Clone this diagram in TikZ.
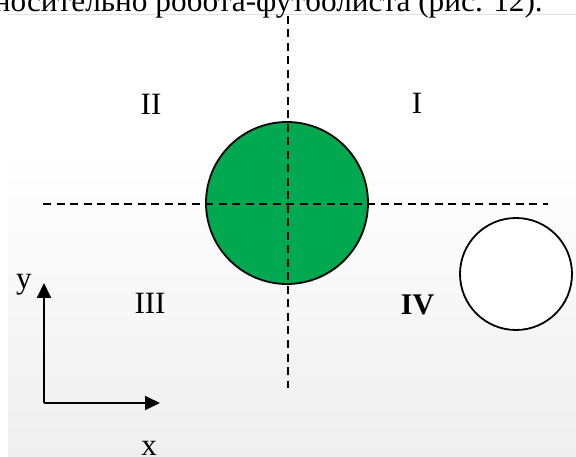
\documentclass[tikz,border=0pt]{standalone}
\usepackage{fontspec}
\setmainfont{Liberation Serif}
\usetikzlibrary{arrows.meta}
\definecolor{ballgreen}{RGB}{0,168,80}
\definecolor{panelgray}{RGB}{239,239,239}
\definecolor{edgegray}{RGB}{225,225,225}
\begin{document}
\begin{tikzpicture}[x=1pt,y=-1pt,
  dashline/.style={line width=1.9pt,dash pattern=on 8pt off 5.5pt},
  body/.style={circle,draw=black,line width=1.8pt,inner sep=0pt},
  quad/.style={font=\fontsize{31}{31}\selectfont,anchor=base,inner sep=0pt},
  axis/.style={line width=1.8pt,-{Triangle[length=15pt,width=14pt]}}]
\useasboundingbox (0,0) rectangle (576,457);
\clip (0,0) rectangle (576,457);
\fill[white] (0,0) rectangle (576,457);
% panel with vertical gradient
\fill[white] (8,14) rectangle (576,150);
\shade[top color=white,bottom color=panelgray] (8,150) rectangle (576,457);
\draw[edgegray,line width=0.8pt] (8,14) -- (576,14);
% caption fragment
\node[anchor=base east,inner sep=0pt,font=\fontsize{31.3}{31.3}\selectfont] (cap) at (543,12) {носительно робота-футболиста (рис. 12).};
% robot and ball
\node[body,fill=ballgreen,minimum size=162pt] (robot) at (287,203) {};
\node[body,fill=white,minimum size=112pt] (ball) at (516,274) {};
% dashed axes
\coordinate (vt) at (288,16);
\coordinate (vb) at (288,388);
\coordinate (hl) at (43,204);
\coordinate (hr) at (548,204);
\draw[dashline] (vt) -- (vb);
\draw[dashline] (hl) -- (hr);
% quadrant labels
\node[quad] (q2) at (151,115) {II};
\node[quad] (q1) at (417,114) {I};
\node[quad] (q3) at (150,313) {III};
\node[quad,font=\fontsize{30}{30}\selectfont\bfseries] (q4) at (417.5,315) {IV};
% coordinate frame
\coordinate (o) at (44,403);
\coordinate (ytip) at (44,283);
\coordinate (xtip) at (160,403);
\draw[axis] (o) -- (ytip);
\draw[axis] (o) -- (xtip);
\node[quad] (ylab) at (24,288) {y};
\node[quad] (xlab) at (149,455) {x};
\end{tikzpicture}
\end{document}
